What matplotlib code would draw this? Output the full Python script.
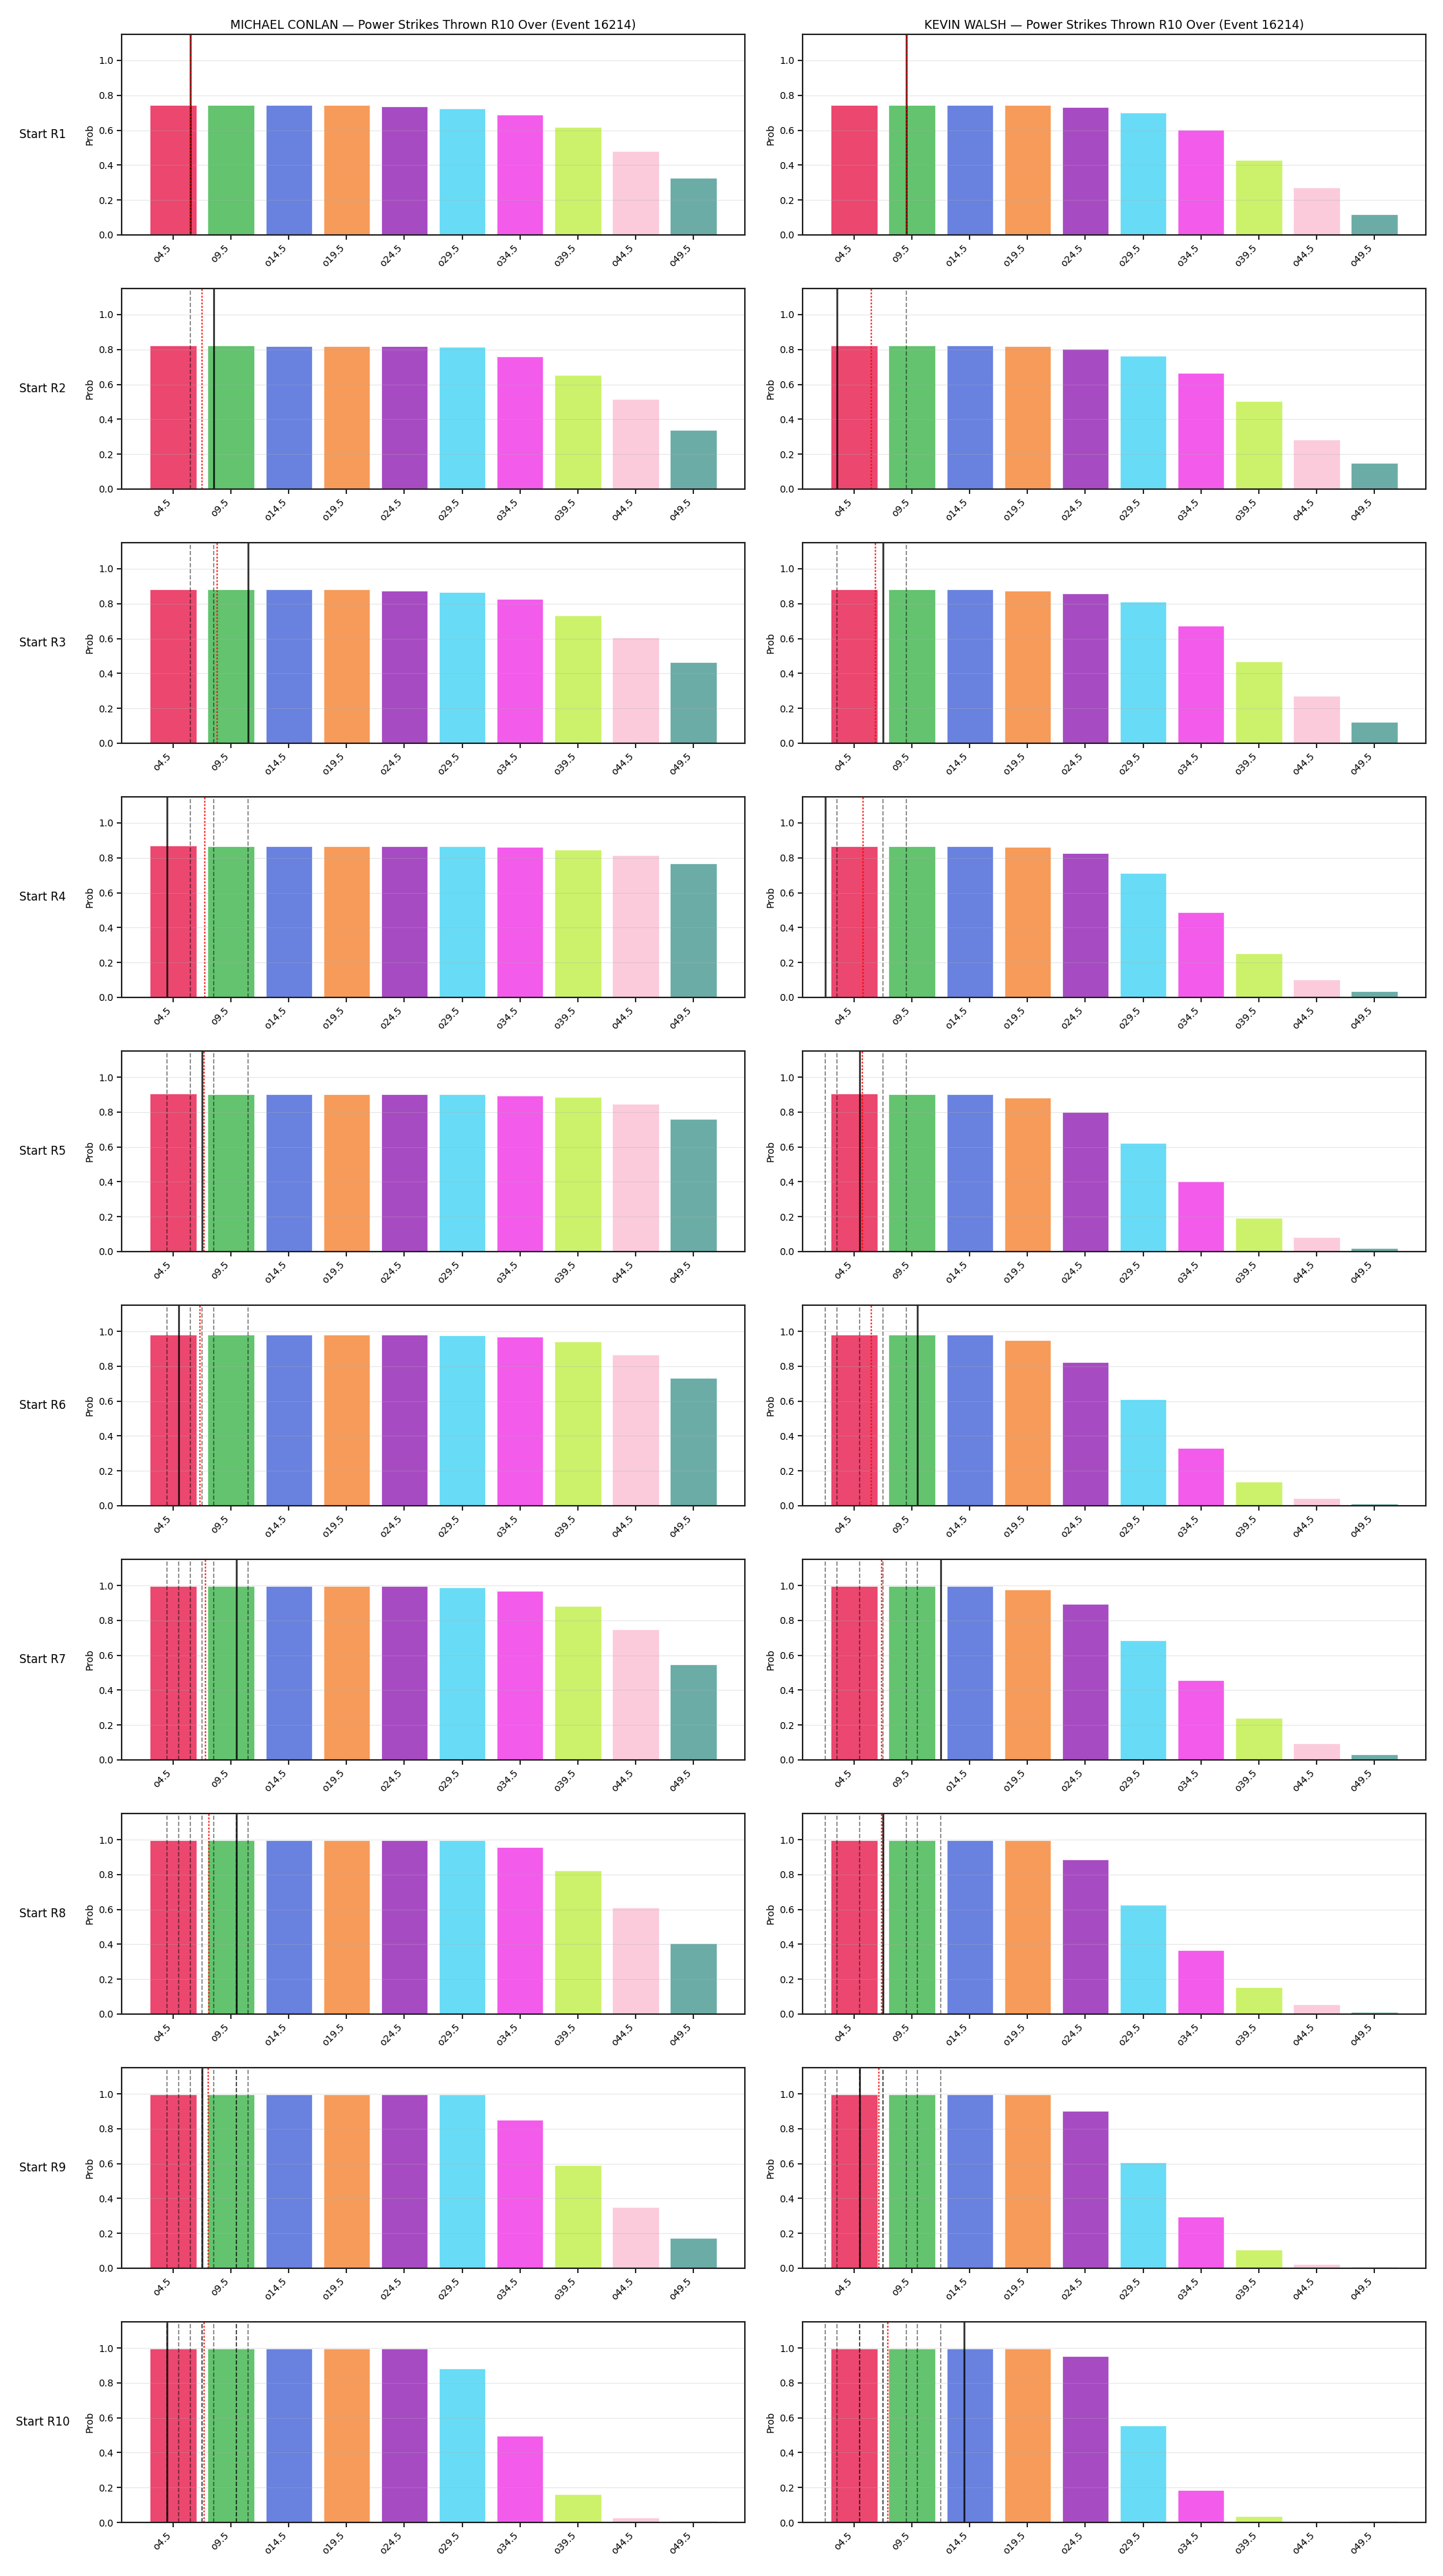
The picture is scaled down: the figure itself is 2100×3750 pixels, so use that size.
import numpy as np
import matplotlib.pyplot as plt

# over/under lines on the x axis
line_labels = ["o4.5", "o9.5", "o14.5", "o19.5", "o24.5", "o29.5", "o34.5", "o39.5", "o44.5", "o49.5"]
line_values = [4.5, 9.5, 14.5, 19.5, 24.5, 29.5, 34.5, 39.5, 44.5, 49.5]
round_labels = ["Start R1", "Start R2", "Start R3", "Start R4", "Start R5",
                "Start R6", "Start R7", "Start R8", "Start R9", "Start R10"]
fighters = ["MICHAEL CONLAN", "KEVIN WALSH"]

# power strikes actually thrown in each round
conlan_strikes = [6, 8, 11, 4, 7, 5, 10, 10, 7, 4]
walsh_strikes = [9, 3, 7, 2, 5, 10, 12, 7, 5, 14]

# P(over) for each line, one row per starting round
conlan_probs = [
    [0.743, 0.743, 0.743, 0.743, 0.738, 0.726, 0.690, 0.616, 0.482, 0.325],
    [0.824, 0.824, 0.820, 0.820, 0.820, 0.813, 0.758, 0.654, 0.514, 0.337],
    [0.880, 0.880, 0.880, 0.880, 0.875, 0.866, 0.826, 0.733, 0.605, 0.466],
    [0.870, 0.866, 0.866, 0.866, 0.866, 0.866, 0.862, 0.847, 0.815, 0.768],
    [0.905, 0.900, 0.900, 0.900, 0.900, 0.900, 0.895, 0.885, 0.845, 0.760],
    [0.980, 0.980, 0.980, 0.980, 0.980, 0.976, 0.969, 0.941, 0.866, 0.733],
    [0.996, 0.996, 0.996, 0.996, 0.996, 0.990, 0.970, 0.882, 0.748, 0.548],
    [0.997, 0.997, 0.997, 0.997, 0.997, 0.997, 0.958, 0.823, 0.611, 0.406],
    [0.997, 0.997, 0.997, 0.997, 0.997, 0.997, 0.852, 0.592, 0.352, 0.172],
    [0.997, 0.997, 0.997, 0.997, 0.997, 0.883, 0.497, 0.163, 0.029, 0.007],
]
walsh_probs = [
    [0.743, 0.743, 0.743, 0.743, 0.731, 0.702, 0.604, 0.430, 0.273, 0.119],
    [0.824, 0.824, 0.824, 0.820, 0.802, 0.765, 0.665, 0.502, 0.285, 0.150],
    [0.880, 0.880, 0.880, 0.875, 0.860, 0.810, 0.672, 0.470, 0.270, 0.120],
    [0.866, 0.866, 0.866, 0.862, 0.825, 0.712, 0.490, 0.252, 0.102, 0.035],
    [0.905, 0.900, 0.900, 0.880, 0.800, 0.622, 0.400, 0.192, 0.082, 0.020],
    [0.980, 0.980, 0.980, 0.950, 0.822, 0.610, 0.332, 0.138, 0.045, 0.010],
    [0.996, 0.996, 0.996, 0.975, 0.892, 0.686, 0.456, 0.242, 0.095, 0.030],
    [0.997, 0.997, 0.997, 0.995, 0.885, 0.627, 0.366, 0.155, 0.055, 0.012],
    [0.997, 0.997, 0.997, 0.995, 0.900, 0.605, 0.295, 0.105, 0.025, 0.006],
    [0.997, 0.997, 0.997, 0.997, 0.954, 0.556, 0.186, 0.034, 0.005, 0.007],
]

colors = ["#e6194b", "#3cb44b", "#4363d8", "#f58231", "#911eb4",
          "#42d4f4", "#f032e6", "#bfef45", "#fabed4", "#469990"]


def to_x(v):
    # strike count -> position on the categorical line axis
    return (v - line_values[0]) / (line_values[1] - line_values[0])


fig, axes = plt.subplots(10, 2, figsize=(21, 37.5), dpi=100)
fig.subplots_adjust(left=0.0843, right=0.9881, top=0.9867, bottom=0.0208,
                    wspace=0.0926, hspace=0.267)

x = np.arange(len(line_labels))
for col, (name, probs, strikes) in enumerate([(fighters[0], conlan_probs, conlan_strikes),
                                               (fighters[1], walsh_probs, walsh_strikes)]):
    for r in range(10):
        ax = axes[r, col]
        ax.bar(x, probs[r], color=colors, alpha=0.8, edgecolor="white", linewidth=0.6)
        ax.set_xlim(ax.get_xlim())
        ax.set_ylim(0, 1.15)

        # earlier rounds
        for v in strikes[:r]:
            ax.axvline(to_x(v), color="k", linestyle="--", linewidth=1.2, alpha=0.5)
        # this round
        ax.axvline(to_x(strikes[r]), color="k", linewidth=1.8, alpha=0.85)
        # running average
        ax.axvline(to_x(np.mean(strikes[:r + 1])), color="red", linestyle=(0, (1.2, 1.0)),
                   linewidth=1.6, alpha=0.8)

        ax.set_xticks(x)
        ax.set_xticklabels(line_labels, rotation=45, ha="right")
        ax.tick_params(length=5, width=1.2)
        ax.set_ylabel("Prob")
        ax.grid(axis="y", alpha=0.3)
        for s in ax.spines.values():
            s.set_linewidth(1.5)
            s.set_color("#222222")
        if r == 0:
            ax.set_title(f"{name} — Power Strikes Thrown R10 Over (Event 16214)", fontsize=12.5)
        if col == 0:
            ax.text(-0.127, 0.5, round_labels[r], transform=ax.transAxes,
                    ha="center", va="center", fontsize=12)

fig.savefig("out.png", dpi=100)
